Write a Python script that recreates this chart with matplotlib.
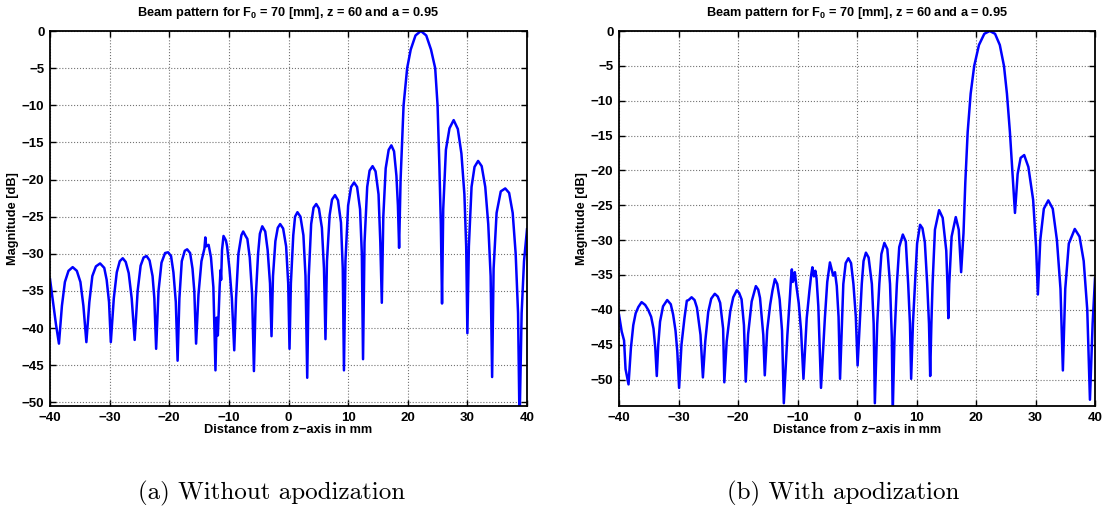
import numpy as np
import matplotlib
matplotlib.use('Agg')
import matplotlib.pyplot as plt

#=== Data (x in mm, magnitude in dB) ===
x_no_apod = [-40.0, -39.5, -39.0, -38.5, -38.0, -37.5, -36.9, -36.2, -35.5, -34.9, -34.4, -33.9,
             -33.4, -32.9, -32.3, -31.6, -30.9, -30.5, -30.1, -29.8, -29.3, -28.8, -28.3, -27.8,
             -27.3, -26.8, -26.3, -25.8, -25.3, -24.8, -24.3, -23.8, -23.3, -22.8, -22.5, -22.2,
             -21.8, -21.3, -20.7, -20.2, -19.7, -19.3, -18.9, -18.6, -18.3, -17.9, -17.4, -17.0,
             -16.5, -16.1, -15.8, -15.5, -15.1, -14.6, -14.1, -13.95, -13.8, -13.4, -13.0, -12.6,
             -12.25, -12.05, -11.85, -11.55, -11.4, -11.3, -11.15, -10.9, -10.5, -10.3, -9.9, -9.5,
             -9.1, -8.8, -8.4, -7.9, -7.6, -7.2, -6.9, -6.5, -6.1, -5.8, -5.5, -5.1,
             -4.8, -4.4, -3.9, -3.5, -3.1, -2.85, -2.6, -2.2, -1.8, -1.4, -0.9, -0.4,
             -0.05, 0.17, 0.4, 0.8, 1.1, 1.5, 2.0, 2.5, 2.85, 3.14, 3.4, 3.8,
             4.2, 4.65, 5.1, 5.6, 5.95, 6.2, 6.45, 6.9, 7.3, 7.8, 8.3, 8.8,
             9.1, 9.3, 9.55, 10.0, 10.5, 11.0, 11.5, 12.0, 12.3, 12.5, 12.75, 13.2,
             13.6, 14.1, 14.6, 15.1, 15.4, 15.65, 15.9, 16.3, 16.8, 17.25, 17.7, 18.1,
             18.35, 18.55, 18.8, 19.3, 19.9, 20.5, 21.3, 22.2, 23.1, 23.9, 24.6, 25.0,
             25.3, 25.55, 25.75, 25.95, 26.4, 27.0, 27.7, 28.4, 29.0, 29.5, 29.8, 30.0,
             30.25, 30.7, 31.2, 31.8, 32.4, 33.0, 33.5, 33.9, 34.15, 34.4, 34.9, 35.6,
             36.35, 37.0, 37.6, 38.1, 38.5, 38.75, 39.1, 39.5, 40.0]
y_no_apod = [-33.4, -36.5, -39.5, -42.1, -37.0, -33.8, -32.3, -31.8, -32.3, -33.8, -37.0, -41.9,
             -36.5, -33.0, -31.7, -31.3, -31.9, -33.5, -36.5, -41.9, -36.0, -32.5, -31.0, -30.6,
             -31.1, -32.6, -36.0, -41.6, -35.0, -31.6, -30.5, -30.3, -30.9, -33.0, -36.0, -42.8,
             -35.0, -31.2, -29.9, -29.8, -30.3, -32.5, -36.5, -44.4, -36.0, -31.0, -29.6, -29.4,
             -29.9, -32.0, -35.0, -42.1, -35.5, -31.0, -29.3, -27.8, -29.0, -28.8, -30.5, -34.5,
             -45.7, -38.6, -41.0, -34.5, -32.2, -33.5, -29.5, -27.6, -28.2, -29.0, -32.0, -36.0,
             -43.0, -36.0, -30.0, -27.5, -27.0, -27.6, -28.0, -30.5, -35.5, -45.8, -36.0, -30.0,
             -27.3, -26.3, -27.0, -29.5, -34.0, -41.1, -33.0, -28.3, -26.5, -26.0, -26.6, -29.0,
             -34.0, -42.8, -34.0, -27.5, -25.0, -24.4, -25.0, -27.5, -33.0, -46.7, -33.0, -26.0,
             -23.8, -23.3, -23.9, -26.5, -32.0, -41.5, -31.0, -24.8, -22.7, -22.1, -22.8, -25.8,
             -32.0, -45.7, -31.0, -23.5, -21.0, -20.4, -21.0, -24.0, -30.0, -44.2, -28.5, -21.0,
             -18.8, -18.2, -18.9, -22.0, -28.5, -36.6, -25.0, -18.5, -16.0, -15.4, -16.2, -19.5,
             -23.5, -29.2, -20.0, -10.0, -5.0, -2.5, -0.6, 0.0, -0.6, -2.5, -5.0, -10.0,
             -18.0, -26.0, -36.7, -24.0, -16.0, -13.1, -12.0, -13.2, -16.5, -22.0, -29.0, -40.7,
             -29.0, -21.0, -18.3, -17.5, -18.2, -21.0, -26.0, -33.0, -46.6, -32.0, -24.5, -21.6,
             -21.2, -21.8, -24.5, -30.0, -38.0, -53.0, -38.0, -31.0, -26.7]

x_apod = [-40.0, -39.55, -39.15, -38.9, -38.4, -38.0, -37.6, -37.2, -36.75, -36.2, -35.6, -35.1,
          -34.6, -34.2, -33.9, -33.65, -33.4, -33.1, -32.6, -31.9, -31.3, -30.9, -30.5, -30.2,
          -29.9, -29.5, -29.0, -28.6, -28.3, -27.8, -27.3, -26.9, -26.3, -25.9, -25.5, -25.0,
          -24.5, -23.9, -23.4, -23.0, -22.5, -22.3, -21.9, -21.3, -20.8, -20.2, -19.8, -19.4,
          -19.0, -18.7, -18.3, -17.7, -17.0, -16.6, -16.3, -15.75, -15.5, -15.1, -14.6, -14.2,
          -13.8, -13.4, -13.0, -12.6, -12.3, -11.7, -11.25, -11.1, -10.95, -10.8, -10.6, -10.45,
          -10.2, -9.8, -9.4, -9.0, -8.45, -8.0, -7.7, -7.5, -7.25, -7.0, -6.8, -6.5,
          -6.05, -5.4, -5.0, -4.55, -4.2, -4.0, -3.7, -3.4, -3.1, -2.85, -2.3, -1.9,
          -1.45, -1.0, -0.6, -0.2, 0.1, 0.8, 1.1, 1.5, 1.95, 2.5, 2.8, 3.0,
          3.4, 3.75, 4.1, 4.6, 5.1, 5.55, 5.85, 6.0, 6.3, 6.7, 7.1, 7.7,
          8.2, 8.6, 8.9, 9.1, 9.4, 9.75, 10.1, 10.6, 11.0, 11.4, 11.8, 12.1,
          12.3, 12.5, 12.7, 13.1, 13.8, 14.4, 15.0, 15.2, 15.35, 15.5, 15.9, 16.6,
          17.1, 17.5, 17.9, 18.2, 18.6, 19.1, 19.7, 20.5, 21.4, 22.3, 23.2, 24.0,
          24.7, 25.2, 25.7, 26.1, 26.55, 27.0, 27.5, 28.1, 28.8, 29.6, 30.1, 30.4,
          30.8, 31.4, 32.15, 32.9, 33.6, 34.2, 34.6, 35.0, 35.6, 36.6, 37.4, 38.1,
          38.7, 39.15, 39.6, 40.0]
y_apod = [-40.7, -43.1, -44.4, -48.5, -50.7, -45.5, -42.2, -40.5, -39.6, -38.9, -39.3, -40.0,
          -41.0, -42.7, -45.5, -49.5, -45.0, -41.7, -39.5, -38.6, -39.2, -40.7, -43.0, -46.0,
          -51.2, -45.0, -41.2, -38.7, -38.6, -38.2, -38.6, -39.7, -43.6, -49.7, -44.5, -40.3,
          -38.4, -37.7, -38.1, -39.0, -42.7, -50.4, -44.5, -40.2, -38.2, -37.2, -37.6, -38.5,
          -42.2, -50.3, -43.5, -38.8, -36.6, -37.1, -38.3, -43.6, -49.4, -43.0, -39.3, -37.2,
          -35.6, -36.3, -38.5, -43.0, -53.4, -43.6, -37.8, -35.6, -34.2, -36.0, -35.6, -34.6,
          -36.5, -39.0, -43.0, -49.9, -41.2, -37.3, -35.0, -33.9, -35.2, -34.4, -35.5, -39.5,
          -51.2, -41.2, -36.0, -33.2, -34.4, -35.1, -34.6, -36.6, -41.0, -49.9, -36.3, -33.3,
          -32.6, -33.3, -36.3, -41.0, -48.0, -36.3, -33.0, -31.8, -32.5, -36.3, -42.0, -53.4,
          -42.0, -36.3, -32.0, -30.4, -31.3, -36.3, -44.0, -55.0, -44.0, -36.3, -31.0, -29.2,
          -30.2, -36.3, -42.0, -49.9, -42.0, -36.3, -30.5, -27.8, -28.3, -30.3, -36.3, -42.0,
          -49.5, -42.0, -36.3, -28.5, -25.7, -26.8, -31.5, -36.3, -41.2, -36.3, -29.5, -26.7,
          -28.5, -34.6, -29.0, -21.8, -14.5, -9.0, -5.0, -2.0, -0.4, 0.0, -0.4, -2.0,
          -5.0, -9.0, -14.5, -20.0, -26.1, -20.5, -18.2, -17.8, -19.5, -24.2, -31.0, -37.8,
          -30.0, -25.5, -24.3, -25.5, -30.0, -37.0, -48.7, -37.0, -30.5, -28.4, -29.5, -33.0,
          -40.0, -52.9, -42.0, -35.5]

xticks = [-40, -30, -20, -10, 0, 10, 20, 30, 40]
yticks_a = [0, -5, -10, -15, -20, -25, -30, -35, -40, -45, -50]
title_txt = r'Beam pattern for F$_{\mathbf{0}}$ = 70 [mm], z = 60 and a = 0.95'
captions = ['(a) Without apodization', '(b) With apodization']

#=== Style ===
plt.rcParams['font.family'] = ['Liberation Sans', 'DejaVu Sans']
plt.rcParams['font.weight'] = 'bold'
plt.rcParams['mathtext.fontset'] = 'custom'
plt.rcParams['mathtext.bf'] = 'Liberation Sans:bold'
plt.rcParams['mathtext.rm'] = 'Liberation Sans:bold'

fig = plt.figure(figsize=(11.05, 5.11), dpi=100)
W, H = 1105.0, 511.0
ax1 = fig.add_axes([50 / W, (H - 406) / H, 477 / W, 375 / H])
ax2 = fig.add_axes([619 / W, (H - 406) / H, 476 / W, 375 / H])


def style_axes(ax, ylim):
    ax.set_xlim(-40, 40)
    ax.set_ylim(*ylim)
    ax.set_xticks(xticks)
    ax.grid(True, linestyle=':', color='0.45', linewidth=0.8)
    ax.tick_params(direction='in', top=True, right=True, length=4, width=1.0,
                   labelsize=9.5, pad=4)
    for lab in ax.get_xticklabels() + ax.get_yticklabels():
        lab.set_fontweight('bold')
    for sp in ax.spines.values():
        sp.set_linewidth(1.3)
    ax.set_title(title_txt, fontsize=9.2, fontweight='bold', pad=11)
    ax.set_xlabel('Distance from z\u2212axis in mm', fontsize=9.2, fontweight='bold', labelpad=0)
    ax.set_ylabel('Magnitude [dB]', fontsize=9.2, fontweight='bold', labelpad=2)


ax1.plot(x_no_apod, y_no_apod, color='#0000ff', linewidth=1.8)
ax1.set_yticks(yticks_a)
style_axes(ax1, (-50.5, 0))

ax2.plot(x_apod, y_apod, color='#0000ff', linewidth=1.8)
ax2.set_yticks(yticks_a)
style_axes(ax2, (-53.8, 0))

fig.text(272 / W, 1 - 493 / H, captions[0], fontsize=18, family='cmr10',
         fontweight='normal', ha='center', va='center')
fig.text(843 / W, 1 - 493 / H, captions[1], fontsize=18, family='cmr10',
         fontweight='normal', ha='center', va='center')

fig.savefig('out.png', dpi=100)
